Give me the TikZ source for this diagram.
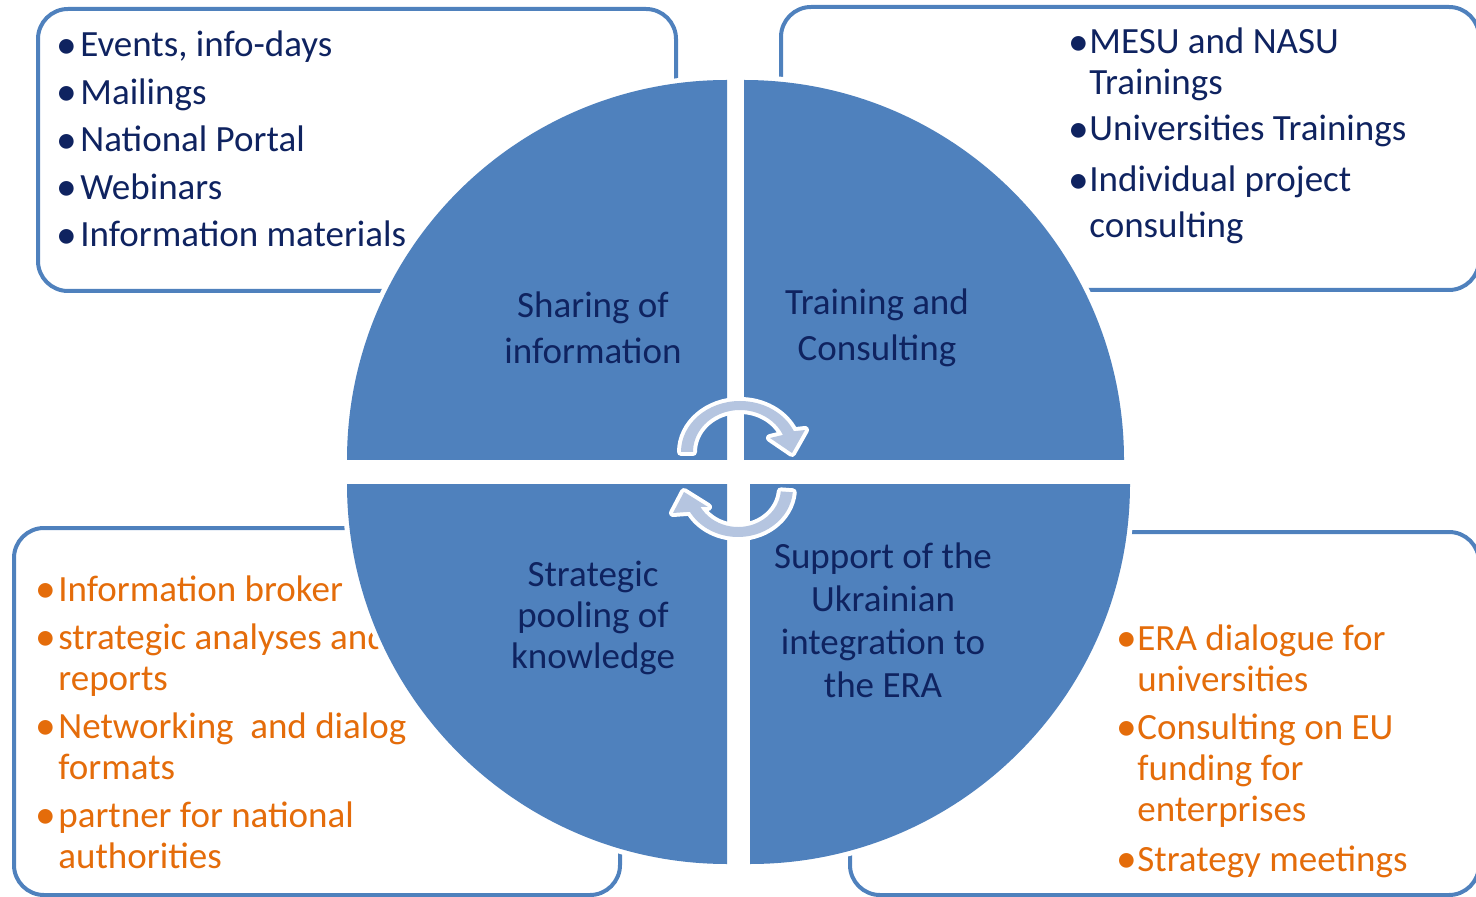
\documentclass[tikz,border=0pt]{standalone}
\usepackage{fontspec}
\setmainfont{Carlito}
\usepackage{tikz}

\definecolor{quadblue}{HTML}{4F81BD}
\definecolor{navytext}{HTML}{0F2360}
\definecolor{orangetext}{HTML}{E46C0A}
\definecolor{arrowfill}{HTML}{B5C5E0}

\newcommand{\listfont}{\fontsize{18.5}{20.5}\selectfont}
\newcommand{\itm}[1]{\makebox[#1][l]{\raisebox{-0.03em}{\scalebox{1.12}{\textbullet}}}}

\tikzset{
  panel/.style={draw=quadblue, line width=2pt, rounded corners=15pt},
  quad/.style={fill=quadblue, preaction={draw=white, line width=5pt}},
  quadlabel/.style={text=navytext, font=\listfont, align=center, inner sep=0pt},
  bullets/.style={anchor=base west, inner sep=0pt, font=\listfont},
  cycarrow/.style={fill=arrowfill, preaction={draw=white, line width=4pt, line join=round}}
}

\begin{document}
\begin{tikzpicture}[x=0.5pt, y=-0.5pt]
  % page in pixel units (y runs down)
  \useasboundingbox (0,0) rectangle (1476,897);
  \clip (0,0) rectangle (1476,897);

  % rounded frames, behind the circle
  \draw[panel] (38,9) rectangle (676,291);
  \draw[panel] (781,7) rectangle (1479,290);
  \draw[panel] (14,528) rectangle (620,895);
  \draw[panel] (850,532) rectangle (1479,895);

  % lists in the frames (the circle covers their right ends)
  \node[bullets, text=navytext] (sharelist) at (56,57) {%
    \begin{tabular}[t]{@{}l@{}l@{}}
      \itm{12pt} & Events, info-days\\[3.25pt]
      \itm{12pt} & Mailings\\[3.25pt]
      \itm{12pt} & National Portal\\[3.25pt]
      \itm{12pt} & Webinars\\[3.25pt]
      \itm{12pt} & Information materials
    \end{tabular}};
  \node[bullets, text=navytext] (trainlist) at (1068,54) {%
    \begin{tabular}[t]{@{}l@{}l@{}}
      \itm{10.5pt} & MESU and NASU\\
                   & Trainings\\[2.5pt]
      \itm{10.5pt} & Universities Trainings\\[5pt]
      \itm{10.5pt} & Individual project\\[2.5pt]
                   & consulting
    \end{tabular}};
  \node[bullets, text=orangetext] (poollist) at (35,601) {%
    \begin{tabular}[t]{@{}l@{}l@{}}
      \itm{11.5pt} & Information broker\\[3.5pt]
      \itm{11.5pt} & strategic analyses and\\
                   & reports\\[3.5pt]
      \itm{11.5pt} & Networking\ \ and dialog\\
                   & formats\\[3.5pt]
      \itm{11.5pt} & partner for national\\
                   & authorities
    \end{tabular}};
  \node[bullets, text=orangetext] (eralist) at (1116,650) {%
    \begin{tabular}[t]{@{}l@{}l@{}}
      \itm{10.5pt} & ERA dialogue for\\
                   & universities\\[3.5pt]
      \itm{10.5pt} & Consulting on EU\\
                   & funding for\\
                   & enterprises\\[4.5pt]
      \itm{10.5pt} & Strategy meetings
    \end{tabular}};

  % the four quarters
  \path[quad] (727,460) -- (347,460) arc[start angle=180, end angle=270, radius=380] -- cycle;
  \path[quad] (744,460) -- (744,80) arc[start angle=270, end angle=360, radius=380] -- cycle;
  \path[quad] (727,484) -- (727,864) arc[start angle=90, end angle=180, radius=380] -- cycle;
  \path[quad] (750,484) -- (1130,484) arc[start angle=0, end angle=90, radius=380] -- cycle;

  % quarter titles
  \node[quadlabel] (share) at (593,328) {Sharing of\\[2.5pt]information};
  \node[quadlabel] (train) at (877,328) {Training and\\[2.5pt]Consulting};
  \node[quadlabel] (pool) at (593,618) {Strategic\\pooling of\\knowledge};
  \node[quadlabel] (era) at (883,620) {Support of the\\[1pt]Ukrainian\\[1pt]integration to\\[1pt]the ERA};

  % circular arrows in the middle
  \begin{scope}[shift={(740,452)}]
    \path[cycarrow] (180:59 and 51) arc[start angle=180, end angle=336, x radius=59, y radius=51]
      -- (65,-22) -- (52,1) -- (30,-14) -- (336:47 and 42)
      arc[start angle=336, end angle=180, x radius=47, y radius=42] -- cycle;
  \end{scope}
  \begin{scope}[shift={(738,488)}]
    \path[cycarrow] (5:55 and 49) arc[start angle=5, end angle=151, x radius=55, y radius=49]
      -- (-65,25) -- (-54,4) -- (-30,19) -- (151:43 and 39)
      arc[start angle=151, end angle=5, x radius=43, y radius=39] -- cycle;
  \end{scope}
\end{tikzpicture}
\end{document}
